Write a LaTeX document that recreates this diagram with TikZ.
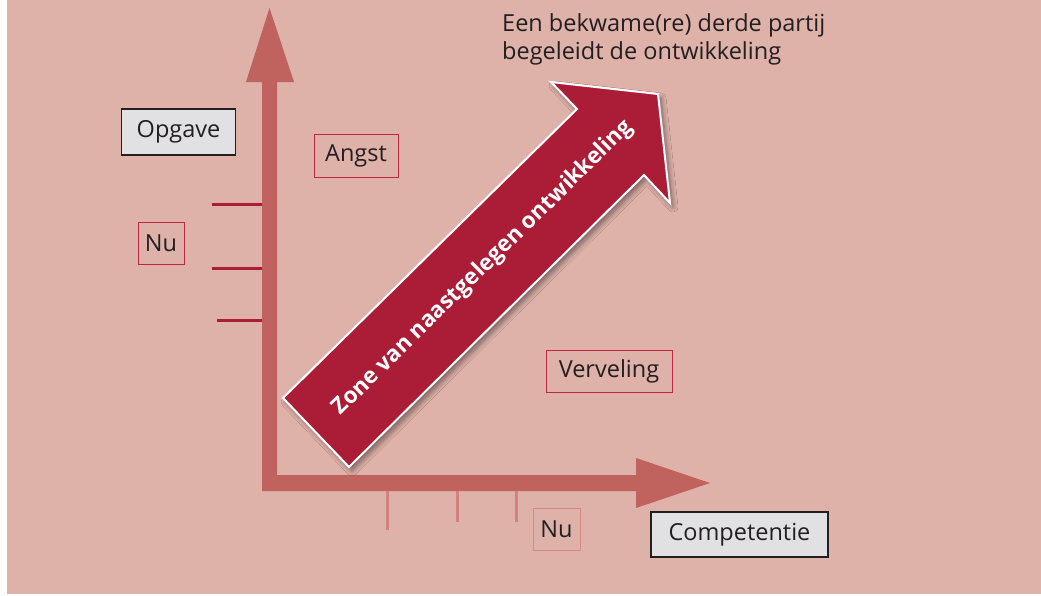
\documentclass[tikz,border=0pt]{standalone}
\usepackage{fontspec}
\setmainfont{Open Sans}
\usetikzlibrary{shadows.blur}
\definecolor{bgpink}{RGB}{222,177,169}
\definecolor{axisred}{RGB}{192,98,93}
\definecolor{darkred}{RGB}{171,28,55}
\definecolor{ticklight}{RGB}{212,128,126}
\definecolor{boxgray}{RGB}{225,225,227}
\definecolor{boxborder}{RGB}{190,40,62}
\definecolor{lightborder}{RGB}{217,137,132}
\definecolor{txt}{RGB}{35,31,32}
\tikzset{
  graybox/.style={draw=txt, line width=1.2pt, fill=boxgray, text=txt, font=\fontsize{23.5}{28}\selectfont, inner sep=0pt},
  redbox/.style={draw=boxborder, line width=1pt, text=txt, font=\fontsize{23.5}{28}\selectfont, inner sep=0pt},
  lightbox/.style={draw=lightborder, line width=1pt, text=txt, font=\fontsize{23.5}{28}\selectfont, inner sep=0pt},
  vtick/.style={draw=darkred, line width=3pt},
  htick/.style={draw=ticklight, line width=3pt},
}
\begin{document}
\begin{tikzpicture}[x=1pt,y=-1pt]
\useasboundingbox (0,0) rectangle (1041,595);
\fill[white] (0,0) rectangle (1041,595);
\fill[bgpink] (7,0) rectangle (1041,594);
% axes
\fill[axisred] (262,491) -- (262,82) -- (246,82) -- (269.5,8) -- (294,82) -- (277,82)
  -- (277,475) -- (636,475) -- (636,458) -- (710,483) -- (636,508) -- (636,491) -- cycle;
% ticks on vertical axis
\coordinate (v1a) at (212,204); \coordinate (v1b) at (262,204);
\coordinate (v2a) at (212,268); \coordinate (v2b) at (262,268);
\coordinate (v3a) at (217,320); \coordinate (v3b) at (262,320);
\draw[vtick] (v1a) -- (v1b);
\draw[vtick] (v2a) -- (v2b);
\draw[vtick] (v3a) -- (v3b);
% ticks on horizontal axis
\coordinate (h1a) at (387,491); \coordinate (h1b) at (387,530);
\coordinate (h2a) at (457,491); \coordinate (h2b) at (457,522);
\coordinate (h3a) at (516,491); \coordinate (h3b) at (516,522);
\draw[htick] (h1a) -- (h1b);
\draw[htick] (h2a) -- (h2b);
\draw[htick] (h3a) -- (h3b);
% big diagonal arrow
\coordinate (t1) at (283,398);
\coordinate (t2) at (349,467);
\coordinate (n2) at (644,175);
\coordinate (b2) at (670,203);
\coordinate (tip) at (658,94);
\coordinate (b1) at (551,82);
\coordinate (n1) at (577,109);
\fill[darkred, draw=white, line width=2pt, line join=miter,
  blur shadow={shadow xshift=3pt, shadow yshift=-4pt, shadow blur steps=8, shadow blur radius=5pt, shadow opacity=45}]
  (t1) -- (t2) -- (n2) -- (b2) -- (tip) -- (b1) -- (n1) -- cycle;
\node[rotate=44.5, text=white, font=\bfseries\fontsize{22.5}{26}\selectfont] (zone) at (483,268) {Zone van naastgelegen ontwikkeling};
% boxes
\node[graybox, minimum width=114pt, minimum height=46pt] (opgave) at (178.5,132) {Opgave};
\node[redbox, minimum width=84pt, minimum height=43pt] (angst) at (356,155.5) {Angst};
\node[redbox, minimum width=46pt, minimum height=42pt] (nuleft) at (161,243) {Nu};
\node[redbox, minimum width=126pt, minimum height=42pt] (verveling) at (609,371) {Verveling};
\node[lightbox, minimum width=47pt, minimum height=42pt] (nubottom) at (556.5,529) {Nu};
\node[graybox, minimum width=177pt, minimum height=45pt] (competentie) at (739.5,534.5) {Competentie};
% top text
\node[anchor=north west, align=left, text=txt, inner sep=0pt, font=\fontsize{23.5}{28}\selectfont] (derde) at (502,13) {Een bekwame(re) derde partij\\begeleidt de ontwikkeling};
\end{tikzpicture}
\end{document}
